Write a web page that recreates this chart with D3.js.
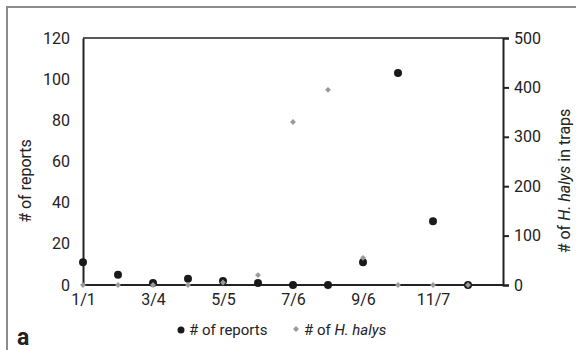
<!DOCTYPE html>
<html>
<head>
<meta charset="utf-8">
<script src="https://cdn.jsdelivr.net/npm/d3@7"></script>
<style>
    body { margin: 0; background: #fff; }
    svg text { font-family: Roboto, 'Liberation Sans', sans-serif; fill: #222; }
</style>
</head>
<body>
<div id="chart"></div>
<script>
// x positions are month slots, only every other one is labelled
const slots = [0, 1, 2, 3, 4, 5, 6, 7, 8, 9, 10, 11];
const tickLabels = ['1/1', '3/4', '5/5', '7/6', '9/6', '11/7'];
const reports = [11, 5, 1, 3, 2, 1, 0, 0, 11, 103, 31, 0];
const halys = [0, 0, 0, 0, 5, 20, 330, 395, 55, 0, 0, 0];
const reportTicks = [0, 20, 40, 60, 80, 100, 120];
const halysTicks = [0, 100, 200, 300, 400, 500];

const W = 576, H = 350;
const margin = { left: 83, right: 73, top: 38, bottom: 65 };
const width = W - margin.left - margin.right,
    height = H - margin.top - margin.bottom;

const svg = d3.select('#chart').append('svg')
    .attr('width', W)
    .attr('height', H);

// panel frame (only top and left edges fall inside the picture)
svg.append('rect')
    .attr('x', 7).attr('y', 7)
    .attr('width', 700).attr('height', 500)
    .attr('fill', 'none')
    .attr('stroke', '#8c8c8c')
    .attr('stroke-width', 2);

const x = d3.scaleLinear().domain([0, 12]).range([0, width]);
const yL = d3.scaleLinear().domain([0, 120]).range([height, 0]);
const yR = d3.scaleLinear().domain([0, 500]).range([height, 0]);

const g = svg.append('g')
    .attr('transform', 'translate(' + margin.left + ',' + margin.top + ')');

// top edge of plot box
g.append('line')
    .attr('x1', 0).attr('x2', width)
    .attr('y1', 0).attr('y2', 0)
    .attr('stroke', '#222').attr('stroke-width', 1.5);

const xAxis = d3.axisBottom(x)
    .tickValues([0, 2, 4, 6, 8, 10])
    .tickSize(0)
    .tickPadding(9)
    .tickFormat(function(d, i) { return tickLabels[i]; });

const yAxisL = d3.axisLeft(yL)
    .tickValues(reportTicks)
    .tickSize(0)
    .tickPadding(13);

const yAxisR = d3.axisRight(yR)
    .tickValues(halysTicks)
    .tickSize(6)
    .tickPadding(5);

function styleAxis(sel) {
    sel.select('.domain').attr('stroke', '#222').attr('stroke-width', 2);
    sel.selectAll('.tick line').attr('stroke', '#222').attr('stroke-width', 2);
    sel.selectAll('.tick text')
        .attr('font-size', 16)
        .attr('fill', '#222');
}

g.append('g')
    .attr('class', 'y axis')
    .call(yAxisL)
    .call(styleAxis);

g.append('g')
    .attr('class', 'y axis right')
    .attr('transform', 'translate(' + width + ',0)')
    .call(yAxisR)
    .call(styleAxis);

g.append('g')
    .attr('class', 'x axis')
    .attr('transform', 'translate(0,' + height + ')')
    .call(xAxis)
    .call(styleAxis);

g.select('.x.axis .domain').attr('d', 'M0,0H' + width);

// reports (left axis)
g.selectAll('.rep')
    .data(slots)
    .enter().append('circle')
    .attr('class', 'rep')
    .attr('cx', function(d) { return x(d); })
    .attr('cy', function(d) { return yL(reports[d]); })
    .attr('r', 4)
    .attr('fill', '#1a1a1a');

// H. halys counts (right axis)
const diamond = d3.symbol().type(d3.symbolDiamond2 || d3.symbolDiamond).size(22);
g.selectAll('.hal')
    .data(slots)
    .enter().append('path')
    .attr('class', 'hal')
    .attr('d', diamond)
    .attr('transform', function(d) {
        return 'translate(' + x(d) + ',' + yR(halys[d]) + ')';
    })
    .attr('fill', '#9a9a9a');

// axis titles
svg.append('text')
    .attr('transform', 'translate(31,181) rotate(-90)')
    .attr('text-anchor', 'middle')
    .attr('font-size', 16)
    .text('# of reports');

const rt = svg.append('text')
    .attr('transform', 'translate(570,181) rotate(-90)')
    .attr('text-anchor', 'middle')
    .attr('font-size', 16);
rt.append('tspan').text('# of ');
rt.append('tspan').attr('font-style', 'italic').text('H. halys');
rt.append('tspan').text(' in traps');

// legend
const leg = svg.append('g').attr('transform', 'translate(0,330)');
leg.append('circle').attr('cx', 181).attr('cy', 0).attr('r', 3.5).attr('fill', '#1a1a1a');
leg.append('text').attr('x', 189).attr('y', 5).attr('font-size', 15).text('# of reports');
leg.append('path')
    .attr('d', diamond)
    .attr('transform', 'translate(296,-1)')
    .attr('fill', '#9a9a9a');
const lt = leg.append('text').attr('x', 304).attr('y', 5).attr('font-size', 15);
lt.append('tspan').text('# of ');
lt.append('tspan').attr('font-style', 'italic').text('H. halys');

// panel letter
svg.append('text')
    .attr('x', 17).attr('y', 345)
    .attr('font-size', 23)
    .attr('font-weight', 'bold')
    .text('a');
</script>
</body>
</html>
